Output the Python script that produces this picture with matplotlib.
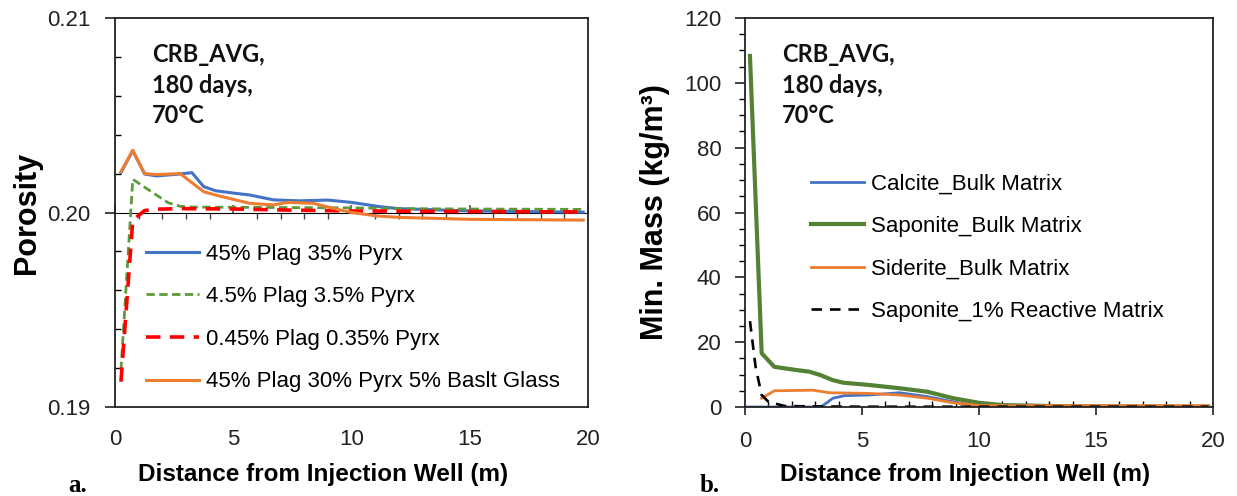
"""Porosity and mineral mass versus distance from the injection well."""
import matplotlib

matplotlib.use("Agg")
from matplotlib import pyplot as plt
from matplotlib.ticker import MultipleLocator, NullFormatter

plt.rcParams["font.family"] = ["Liberation Sans", "DejaVu Sans"]

# ---- panel a: porosity ----
blue_x = [0.25, 0.75, 1.25, 1.75, 2.75, 3.25, 3.75, 4.25, 5.0, 5.7, 6.7, 7.8, 9.0, 10.0, 11.2, 12.0, 15.0, 19.8]
blue_y = [0.20205, 0.20318, 0.20198, 0.20188, 0.20198, 0.20205, 0.20133, 0.20112, 0.20100, 0.20090,
          0.20065, 0.20060, 0.20064, 0.20052, 0.20030, 0.20020, 0.20008, 0.20002]

green_x = [0.25, 0.75, 1.25, 1.75, 2.25, 2.75, 3.25, 5.0, 8.0, 10.0, 12.0, 15.0, 19.8]
green_y = [0.19190, 0.20171, 0.20130, 0.20090, 0.20050, 0.20032, 0.20028, 0.20027, 0.20025, 0.20024,
           0.20020, 0.20018, 0.20016]

red_x = [0.25, 0.75, 1.25, 1.75, 2.75, 5.0, 7.5, 10.0, 15.0, 19.8]
red_y = [0.19130, 0.19960, 0.20010, 0.20017, 0.20020, 0.20018, 0.20012, 0.20008, 0.20005, 0.20003]

orange_x = [0.25, 0.75, 1.25, 1.75, 2.75, 3.2, 3.75, 4.25, 5.7, 6.7, 7.3, 8.4, 9.2, 10.0, 11.1, 12.0, 15.0, 19.8]
orange_y = [0.20210, 0.20320, 0.20200, 0.20195, 0.20200, 0.20158, 0.20107, 0.20090, 0.20047, 0.20039,
            0.20052, 0.20047, 0.20022, 0.20000, 0.19982, 0.19975, 0.19965, 0.19961]

porosity_labels = ["45% Plag 35% Pyrx", "4.5% Plag 3.5% Pyrx", "0.45% Plag 0.35% Pyrx",
                   "45% Plag 30% Pyrx 5% Baslt Glass"]

# ---- panel b: mineral mass ----
calcite_x = [0.0, 0.25, 0.75, 1.25, 1.75, 2.75, 3.25, 3.75, 4.25, 5.3, 6.6, 7.8, 8.9, 10.0, 11.0, 15.0, 19.8]
calcite_y = [0, 0, 0, 0, 0, 0, 0, 2.7, 3.5, 3.7, 4.4, 3.2, 1.6, 0.3, 0.0, 0.0, 0.0]

saponite_x = [0.21, 0.71, 1.25, 2.2, 2.75, 3.2, 3.75, 4.2, 5.3, 6.6, 7.8, 8.9, 10.0, 11.0, 13.2, 15.0, 19.8]
saponite_y = [108.3, 16.6, 12.4, 11.4, 10.9, 9.9, 8.3, 7.5, 6.8, 5.8, 4.7, 2.7, 1.3, 0.6, 0.3, 0.2, 0.1]

siderite_x = [0.71, 1.25, 2.9, 3.6, 5.3, 6.6, 7.8, 8.9, 10.0, 11.0, 15.0, 19.8]
siderite_y = [2.7, 5.0, 5.2, 4.4, 4.2, 3.7, 2.7, 1.3, 0.5, 0.4, 0.4, 0.4]

reactive_x = [0.21, 0.45, 0.71, 1.0, 1.7, 3.0, 5.0, 10.0, 15.0, 19.8]
reactive_y = [26.5, 12.4, 3.7, 1.6, 0.3, 0.2, 0.1, 0.1, 0.1, 0.1]

mass_labels = ["Calcite_Bulk Matrix", "Saponite_Bulk Matrix", "Siderite_Bulk Matrix",
               "Saponite_1% Reactive Matrix"]

x_ticks = [0, 5, 10, 15, 20]
note = "CRB_AVG,\n180 days,\n70°C"

BLUE = "#4472C4"
ORANGE = "#ED7D31"
GREEN_DASH = "#5B9B3A"
GREEN = "#548235"
RED = "#FF0000"

fig = plt.figure(figsize=(12.37, 4.96), dpi=100)
ax_a = fig.add_axes([0.093, 0.1794, 0.3823, 0.7843])
ax_b = fig.add_axes([0.6023, 0.1794, 0.3783, 0.7843])

for ax in (ax_a, ax_b):
    for spine in ax.spines.values():
        spine.set_linewidth(1.3)
        spine.set_color("#222222")
    ax.set_xlim(0, 20)
    ax.set_xticks(x_ticks)
    ax.tick_params(labelsize=16, colors="#222222")

# panel a
ax_a.plot(blue_x, blue_y, color=BLUE, lw=2.2, label=porosity_labels[0])
ax_a.plot(green_x, green_y, color=GREEN_DASH, lw=2.0, dashes=(3, 1.6), label=porosity_labels[1])
ax_a.plot(red_x, red_y, color=RED, lw=2.6, dashes=(4, 2.6), label=porosity_labels[2])
ax_a.plot(orange_x, orange_y, color=ORANGE, lw=2.2, label=porosity_labels[3])
ax_a.set_ylim(0.19, 0.21)
ax_a.set_yticks([0.19, 0.20, 0.21])
ax_a.set_yticklabels(["0.19", "0.20", "0.21"])
ax_a.yaxis.set_minor_locator(MultipleLocator(0.002))
ax_a.tick_params(axis="y", which="major", direction="out", length=7, width=1.2, pad=11)
ax_a.tick_params(axis="y", which="minor", direction="in", length=4, width=1.0)
ax_a.tick_params(axis="x", which="major", length=0, pad=16)

# horizontal axis crossing at porosity 0.20
cross = ax_a.secondary_xaxis(0.5)
cross.set_xticks(x_ticks)
cross.xaxis.set_minor_locator(MultipleLocator(1))
cross.xaxis.set_major_formatter(NullFormatter())
cross.spines["bottom"].set_linewidth(1.3)
cross.spines["bottom"].set_color("#444444")
cross.tick_params(which="major", direction="out", length=6, width=1.1, color="#444444")
cross.tick_params(which="minor", direction="in", length=4, width=1.0, color="#444444")

ax_a.set_ylabel("Porosity", fontsize=22, fontweight="bold")
ax_a.yaxis.set_label_coords(-0.155, 0.5)
ax_a.set_xlabel("Distance from Injection Well (m)", fontsize=17.5, fontweight="bold")
ax_a.xaxis.set_label_coords(0.44, -0.145)
ax_a.text(0.078, 0.935, note, transform=ax_a.transAxes, ha="left", va="top",
          fontsize=17, fontweight="bold", family="Lato", linespacing=1.4, color="#111111")
ax_a.legend(loc="upper left", bbox_to_anchor=(0.065, 0.42), frameon=False, fontsize=16,
            handlelength=2.4, handletextpad=0.3, labelspacing=0.97, borderpad=0, borderaxespad=0)

# panel b
ax_b.plot(calcite_x, calcite_y, color=BLUE, lw=2.0, label=mass_labels[0])
ax_b.plot(saponite_x, saponite_y, color=GREEN, lw=3.0, label=mass_labels[1])
ax_b.plot(siderite_x, siderite_y, color=ORANGE, lw=2.0, label=mass_labels[2])
ax_b.plot(reactive_x, reactive_y, color="black", lw=1.9, dashes=(4, 3), label=mass_labels[3])
ax_b.set_ylim(0, 120)
ax_b.set_yticks([0, 20, 40, 60, 80, 100, 120])
ax_b.yaxis.set_minor_locator(MultipleLocator(5))
ax_b.xaxis.set_minor_locator(MultipleLocator(1))
ax_b.tick_params(axis="y", which="major", direction="out", length=7, width=1.2, pad=10)
ax_b.tick_params(axis="y", which="minor", direction="out", length=4, width=1.0)
ax_b.tick_params(axis="x", which="major", direction="out", length=6, width=1.2, pad=11)
ax_b.tick_params(axis="x", which="minor", direction="in", length=4, width=1.0)

ax_b.set_ylabel("Min. Mass (kg/m³)", fontsize=22, fontweight="bold")
ax_b.yaxis.set_label_coords(-0.16, 0.5)
ax_b.set_xlabel("Distance from Injection Well (m)", fontsize=17.5, fontweight="bold")
ax_b.xaxis.set_label_coords(0.47, -0.145)
ax_b.text(0.079, 0.935, note, transform=ax_b.transAxes, ha="left", va="top",
          fontsize=17, fontweight="bold", family="Lato", linespacing=1.4, color="#111111")
ax_b.legend(loc="upper left", bbox_to_anchor=(0.14, 0.6), frameon=False, fontsize=16,
            handlelength=2.4, handletextpad=0.3, labelspacing=0.97, borderpad=0, borderaxespad=0)

fig.text(0.055, 0.022, "a.", fontsize=18, fontweight="bold", family="Liberation Serif", va="center")
fig.text(0.566, 0.022, "b.", fontsize=18, fontweight="bold", family="Liberation Serif", va="center")

fig.savefig("out.png")
plt.close(fig)
